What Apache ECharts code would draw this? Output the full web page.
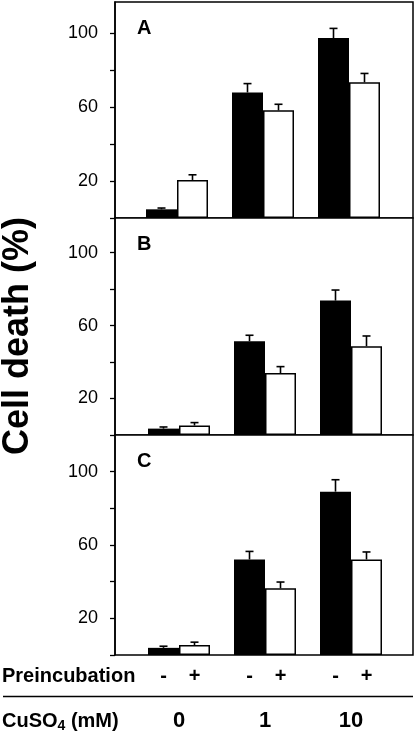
<!DOCTYPE html>
<html>
<head>
<meta charset="utf-8">
<script src="https://cdn.jsdelivr.net/npm/echarts@6/dist/echarts.min.js"></script>
<style>
  html, body { margin: 0; padding: 0; background: #fff; }
  #main { width: 416px; height: 732px; }
</style>
</head>
<body>
<div id="main"></div>
<script>
// data
const doses = ['0', '1', '10'];
const preincubation = ['-', '+'];
const panelNames = ['A', 'B', 'C'];
const yTicks = [0, 20, 40, 60, 80, 100];
const yLabels = [20, 60, 100];

// black = no preincubation, white = preincubation
const blackA = [4.7, 68, 97.5];
const blackAErr = [0.7, 4.8, 5.2];
const whiteA = [20.6, 58.3, 73.5];
const whiteAErr = [2.8, 3.3, 4.8];

const blackB = [3.5, 51.4, 73.7];
const blackBErr = [0.9, 3.3, 5.8];
const whiteB = [5.2, 34, 48.7];
const whiteBErr = [1.6, 3.5, 5.6];

const blackC = [3.9, 52.1, 89.1];
const blackCErr = [0.9, 4.4, 6.5];
const whiteC = [5.4, 36.4, 52.1];
const whiteCErr = [1.6, 3.4, 4.1];

const panels = [
  { name: panelNames[0], black: blackA, blackErr: blackAErr, white: whiteA, whiteErr: whiteAErr },
  { name: panelNames[1], black: blackB, blackErr: blackBErr, white: whiteB, whiteErr: whiteBErr },
  { name: panelNames[2], black: blackC, blackErr: blackCErr, white: whiteC, whiteErr: whiteCErr }
];

// layout of each panel box
const boxes = [
  { top: 2, height: 216, max: 117, barLeft: 134 },
  { top: 218, height: 217, max: 119, barLeft: 136 },
  { top: 435, height: 220, max: 120, barLeft: 136 }
];

const FONT = '"Liberation Sans", Arial, sans-serif';
const BAR_W = 31;

const errorBars = function (offset) {
  return function (params, api) {
    const base = api.coord([api.value(0), api.value(1)]);
    const tip = api.coord([api.value(0), api.value(1) + api.value(2)]);
    const x = base[0] + offset;
    return {
      type: 'group',
      children: [
        { type: 'line', shape: { x1: x, y1: base[1], x2: x, y2: tip[1] },
          style: { stroke: '#000', lineWidth: 1.6 } },
        { type: 'line', shape: { x1: x - 4, y1: tip[1], x2: x + 4, y2: tip[1] },
          style: { stroke: '#000', lineWidth: 1.6 } }
      ]
    };
  };
};

const grid = [], xAxis = [], yAxis = [], series = [], graphic = [];

boxes.forEach(function (b, i) {
  // frame with the y axis
  grid.push({ left: 115, width: 298, top: b.top, height: b.height,
    show: true, borderColor: '#000', borderWidth: 1.5, backgroundColor: '#fff' });
  xAxis.push({ type: 'value', gridIndex: i, min: 0, max: 1, show: false });
  yAxis.push({
    type: 'value', gridIndex: i, min: 0, max: b.max,
    axisLine: { show: true, lineStyle: { color: '#000', width: 1.5 } },
    axisTick: { show: true, length: 5, customValues: yTicks, lineStyle: { color: '#000', width: 1.3 } },
    axisLabel: { customValues: yLabels, color: '#000', fontSize: 18, fontFamily: FONT, margin: 17 },
    splitLine: { show: false }
  });
});

boxes.forEach(function (b, i) {
  // inner grid that holds the bars
  grid.push({ left: b.barLeft, width: 258, top: b.top, height: b.height, show: false });
  const isLast = i === boxes.length - 1;
  xAxis.push({
    type: 'category', gridIndex: 3 + i, data: doses, position: 'bottom',
    axisLine: { show: false }, axisTick: { show: false },
    axisLabel: {
      show: isLast, margin: 11, interval: 0,
      formatter: function () {
        return '{m|' + preincubation[0] + '}{p|' + preincubation[1] + '}';
      },
      rich: {
        m: { width: BAR_W, align: 'center', fontSize: 20, fontWeight: 'bold', fontFamily: FONT, color: '#000', lineHeight: 20 },
        p: { width: BAR_W, align: 'center', fontSize: 20, fontWeight: 'bold', fontFamily: FONT, color: '#000', lineHeight: 20 }
      }
    }
  });
  yAxis.push({ type: 'value', gridIndex: 3 + i, min: 0, max: b.max, show: false });
});

// dose labels under the last panel
xAxis.push({
  type: 'category', gridIndex: 5, data: doses, position: 'bottom',
  axisLine: { show: false }, axisTick: { show: false },
  axisLabel: { margin: 55, interval: 0, fontSize: 22, fontWeight: 'bold', fontFamily: FONT, color: '#000', lineHeight: 22 }
});

panels.forEach(function (p, i) {
  const ax = 3 + i;
  series.push({
    type: 'bar', xAxisIndex: ax, yAxisIndex: ax, data: p.black,
    barWidth: BAR_W, barGap: '0%', itemStyle: { color: '#000' }, z: 3
  });
  series.push({
    type: 'bar', xAxisIndex: ax, yAxisIndex: ax, data: p.white,
    barWidth: BAR_W, barGap: '0%', itemStyle: { color: '#fff', borderColor: '#000', borderWidth: 1.5 }, z: 3
  });
  series.push({
    type: 'custom', xAxisIndex: ax, yAxisIndex: ax, z: 4,
    renderItem: errorBars(-BAR_W / 2),
    data: p.black.map(function (v, k) { return [k, v, p.blackErr[k]]; })
  });
  series.push({
    type: 'custom', xAxisIndex: ax, yAxisIndex: ax, z: 4,
    renderItem: errorBars(BAR_W / 2),
    data: p.white.map(function (v, k) { return [k, v, p.whiteErr[k]]; })
  });
  graphic.push({
    type: 'text', z: 10,
    style: { text: p.name, x: 137, y: boxes[i].top + 26, verticalAlign: 'middle',
      font: 'bold 20px ' + FONT, fill: '#000' }
  });
});

graphic.push(
  {
    type: 'text', z: 10, x: 18, y: 336, rotation: Math.PI / 2,
    style: { text: 'Cell death (%)', align: 'center', verticalAlign: 'middle',
      font: 'bold 36px ' + FONT, fill: '#000' }
  },
  {
    type: 'text', z: 10,
    style: { text: 'Preincubation', x: 2, y: 676.5, verticalAlign: 'middle',
      font: 'bold 20px ' + FONT, fill: '#000' }
  },
  {
    type: 'line', z: 10,
    shape: { x1: 3, y1: 696.5, x2: 413, y2: 696.5 },
    style: { stroke: '#000', lineWidth: 1.5 }
  },
  {
    type: 'text', z: 10,
    style: {
      text: '{a|CuSO}{s|4}{a| (mM)}', x: 2, y: 721.5, verticalAlign: 'middle',
      rich: {
        a: { fontSize: 20, fontWeight: 'bold', fontFamily: FONT, fill: '#000', lineHeight: 24 },
        s: { fontSize: 14, fontWeight: 'bold', fontFamily: FONT, fill: '#000', lineHeight: 14, verticalAlign: 'bottom' }
      }
    }
  }
);

const chart = echarts.init(document.getElementById('main'), null, { renderer: 'canvas' });
chart.setOption({
  animation: false,
  backgroundColor: '#fff',
  grid: grid,
  xAxis: xAxis,
  yAxis: yAxis,
  series: series,
  graphic: graphic
});
</script>
</body>
</html>
